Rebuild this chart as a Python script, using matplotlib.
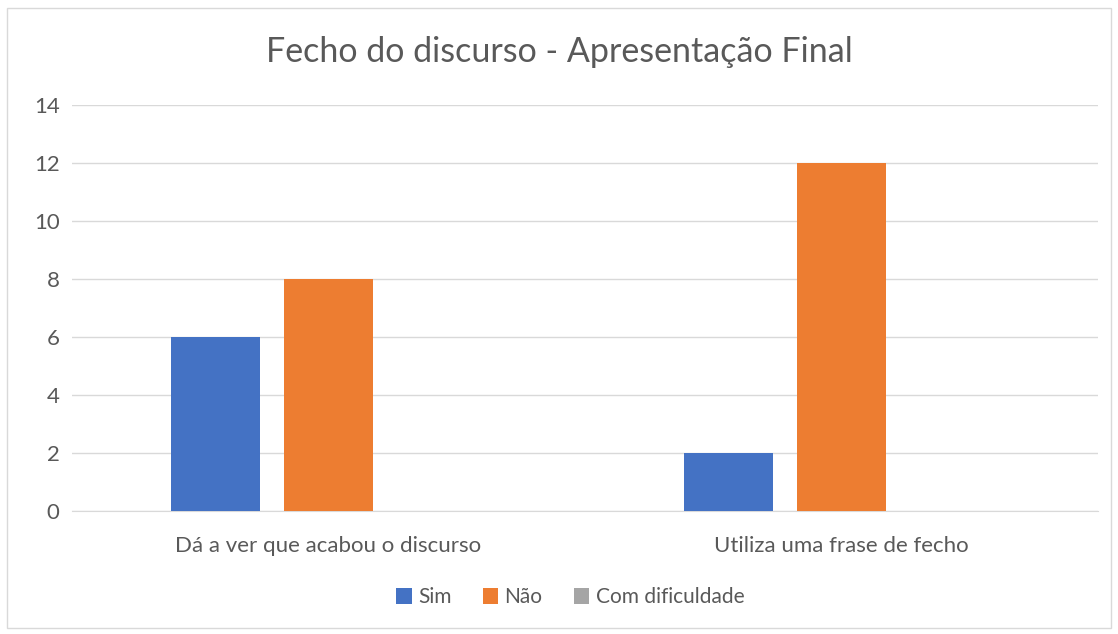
import matplotlib.pyplot as plt
import numpy as np
from matplotlib.patches import Rectangle

plt.rcParams['font.family'] = ['Lato', 'DejaVu Sans']

categories = ['Dá a ver que acabou o discurso', 'Utiliza uma frase de fecho']
series_names = ['Sim', 'Não', 'Com dificuldade']
sim = [6, 2]
nao = [8, 12]
com_dificuldade = [0, 0]
colors = ['#4472C4', '#ED7D31', '#A5A5A5']

fig = plt.figure(figsize=(11.18, 6.34), dpi=100)
ax = fig.add_axes([0.0644, 0.194, 0.9176, 0.6404])

x = np.arange(len(categories))
w = 0.1735
step = 0.22
for i, (vals, name) in enumerate(zip([sim, nao, com_dificuldade], series_names)):
    ax.bar(x + (i - 1) * step, vals, width=w, color=colors[i], label=name, zorder=3)

ax.set_xlim(-0.5, 1.5)
ax.set_ylim(0, 14)
ax.set_yticks(range(0, 15, 2))
ax.set_xticks(x)
ax.set_xticklabels(categories)
ax.grid(axis='y', color='#D9D9D9', linewidth=1, zorder=0)
for s in ['top', 'right', 'left']:
    ax.spines[s].set_visible(False)
ax.spines['bottom'].set_color('#D9D9D9')
ax.tick_params(axis='both', length=0, colors='#595959', labelsize=16)
ax.tick_params(axis='y', pad=9)
ax.tick_params(axis='x', pad=18)

fig.suptitle('Fecho do discurso - Apresentação Final', y=0.943, fontsize=24.5, color='#595959')

leg = fig.legend(loc='center', bbox_to_anchor=(0.51, 0.058), ncol=3, frameon=False,
                 fontsize=15, handlelength=0.75, handleheight=0.75, handletextpad=0.3,
                 columnspacing=1.5)
for t in leg.get_texts():
    t.set_color('#595959')

fig.patches.append(Rectangle((0.006, 0.01), 0.988, 0.978, transform=fig.transFigure,
                             fill=False, edgecolor='#D9D9D9', linewidth=1))

fig.savefig('out.png', dpi=100)
